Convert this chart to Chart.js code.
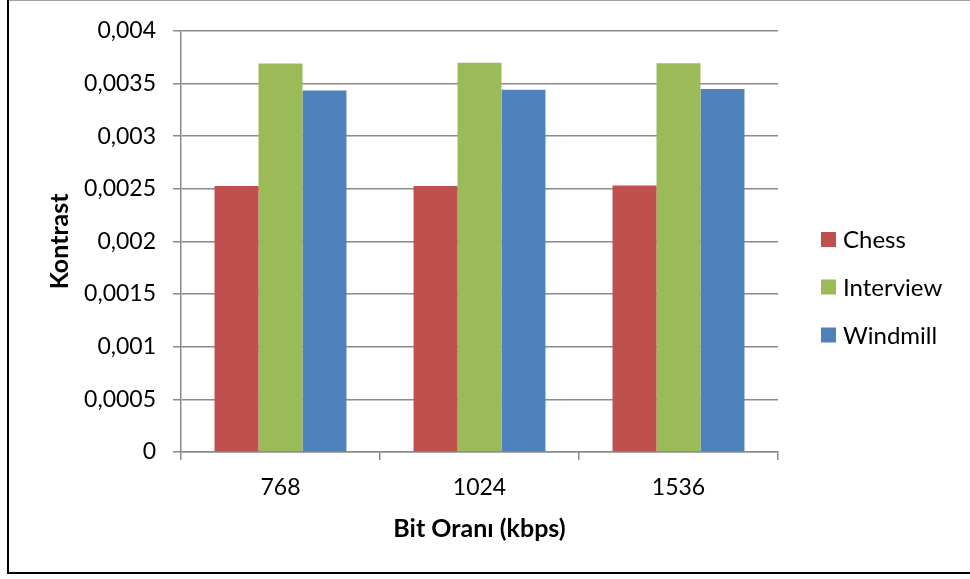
<!DOCTYPE html>
<html>
<head>
<meta charset="utf-8">
<script src="https://cdn.jsdelivr.net/npm/chart.js@4"></script>
<style>
  html, body { margin: 0; padding: 0; background: #fff; }
  #wrap { width: 970px; height: 579px; position: relative; }
</style>
</head>
<body>
<div id="wrap"><canvas id="c" width="970" height="579"></canvas></div>
<script>
const categories = ['768', '1024', '1536'];
const seriesNames = ['Chess', 'Interview', 'Windmill'];
const chessValues = [0.002526, 0.002526, 0.002532];
const interviewValues = [0.00369, 0.003696, 0.003693];
const windmillValues = [0.003434, 0.00344, 0.003448];
const yTickLabels = ['0', '0,0005', '0,001', '0,0015', '0,002', '0,0025', '0,003', '0,0035', '0,004'];
const xAxisTitle = 'Bit Oranı (kbps)';
const yAxisTitle = 'Kontrast';

const colors = ['#C0504D', '#9BBB59', '#4F81BD'];
const FONT = 'Lato, "Open Sans", sans-serif';

const frame = {
  id: 'frame',
  beforeDraw(chart) {
    const ctx = chart.ctx;
    ctx.save();
    ctx.fillStyle = '#fff';
    ctx.fillRect(0, 0, chart.width, chart.height);
    ctx.restore();
  },
  afterDraw(chart) {
    const ctx = chart.ctx;
    ctx.save();
    ctx.strokeStyle = '#a0a0a0';
    ctx.lineWidth = 1;
    ctx.beginPath();
    ctx.moveTo(8, 0.5); ctx.lineTo(970, 0.5);
    ctx.stroke();
    ctx.strokeStyle = '#000';
    ctx.lineWidth = 2;
    ctx.beginPath();
    ctx.moveTo(8, 0); ctx.lineTo(8, 573); ctx.lineTo(970, 573);
    ctx.stroke();
    // legend
    const ds = chart.data.datasets;
    const ys = [239.5, 287, 335];
    ctx.font = '24px ' + FONT;
    ctx.textBaseline = 'middle';
    ctx.textAlign = 'left';
    ds.forEach((d, i) => {
      ctx.fillStyle = d.backgroundColor;
      ctx.fillRect(821, ys[i] - 7.5, 15, 15);
      ctx.fillStyle = '#000';
      ctx.fillText(d.label, 843, ys[i] + 1);
    });
    ctx.restore();
  }
};

const valueSets = [chessValues, interviewValues, windmillValues];

new Chart(document.getElementById('c'), {
  type: 'bar',
  data: {
    labels: categories,
    datasets: seriesNames.map((n, i) => ({
      label: n,
      data: valueSets[i],
      backgroundColor: colors[i],
      borderWidth: 0,
      categoryPercentage: 0.663,
      barPercentage: 1
    }))
  },
  options: {
    responsive: false,
    animation: false,
    devicePixelRatio: 1,
    layout: { padding: { left: 0, right: 192, top: 28, bottom: 0 } },
    plugins: {
      legend: { display: false },
      tooltip: { enabled: false }
    },
    scales: {
      x: {
        grid: { drawOnChartArea: false, drawTicks: true, tickLength: 8, color: '#8a8a8a', lineWidth: 1.5 },
        border: { color: '#8a8a8a', width: 1.5 },
        ticks: { color: '#000', font: { family: FONT, size: 23 }, padding: 14 },
        title: { display: true, text: xAxisTitle, color: '#000', font: { family: FONT, size: 25, weight: 'bold' }, padding: { top: 0, bottom: 35 } },
        afterFit(s) { s.height = 127; }
      },
      y: {
        min: 0, max: 0.004,
        ticks: {
          stepSize: 0.0005, color: '#000', font: { family: FONT, size: 23 }, padding: 17,
          callback: (v, i) => yTickLabels[i]
        },
        grid: { color: '#8a8a8a', lineWidth: 1.5, tickLength: 8 },
        border: { color: '#8a8a8a', width: 1.5 },
        title: { display: true, text: yAxisTitle, color: '#000', font: { family: FONT, size: 25, weight: 'bold' }, padding: { top: 45, bottom: 0 } },
        afterFit(s) { s.width = 181; }
      }
    }
  },
  plugins: [frame]
});
</script>
</body>
</html>
